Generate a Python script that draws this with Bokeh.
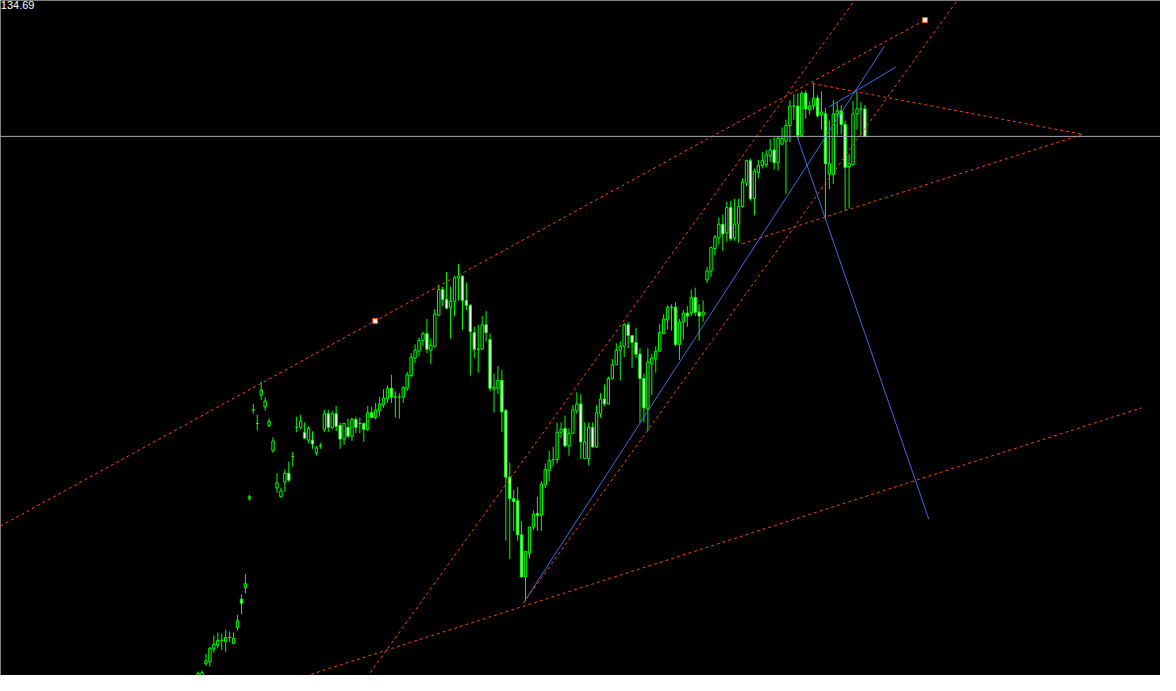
from bokeh.plotting import figure
from bokeh.models import Range1d, Label, Span, ColumnDataSource
from bokeh.embed import file_html
from bokeh.resources import INLINE

# ---- candle data (bar index order) ----
opens = [
    79.2, 79.3, 80.7, 80.9, 82.2, 82.6, 83.1, 83.0, 83.4, 82.8,
    84.4, 87.3, 88.5, 97.6, 106.7, 105.3, 108.2, 107.0, 105.1, 102.5,
    98.7, 97.8, 99.3, 100.2, 101.9, 104.9, 104.9, 104.4, 103.6, 103.6,
    102.3, 103.0, 104.7, 106.3, 104.9, 106.3, 105.1, 103.7, 104.9, 104.0,
    105.7, 105.3, 105.3, 104.7, 106.4, 105.9, 106.6, 107.2, 107.8, 108.9,
    108.0, 108.0, 108.0, 108.9, 110.2, 112.0, 112.7, 113.8, 114.5, 112.8,
    113.2, 116.4, 119.0, 118.0, 117.2, 117.8, 120.2, 120.4, 117.9, 117.4,
    114.6, 112.9, 112.9, 115.4, 113.9, 108.8, 108.9, 109.7, 106.6, 99.8,
    97.6, 97.4, 93.9, 89.6, 92.0, 94.7, 96.1, 95.9, 99.0, 100.5,
    101.6, 101.6, 104.4, 104.8, 103.0, 104.3, 106.6, 107.3, 101.7, 101.7,
    104.9, 102.9, 106.3, 107.8, 107.3, 109.9, 111.3, 112.8, 113.2, 115.4,
    114.3, 113.6, 112.4, 109.9, 106.8, 111.4, 111.9, 112.7, 114.5, 115.9,
    117.2, 117.2, 113.4, 115.7, 116.6, 116.6, 118.2, 116.7, 116.4, 120.0,
    120.9, 123.2, 124.3, 125.7, 124.8, 127.4, 124.3, 125.7, 127.5, 129.9,
    132.2, 128.3, 131.0, 131.7, 131.8, 132.7, 133.3, 132.0, 133.9, 134.2,
    135.8, 137.8, 137.8, 134.8, 139.1, 137.4, 137.8, 138.6, 136.9, 137.0,
    130.8, 130.8, 136.9, 137.3, 135.9, 131.6, 131.8, 137.0, 137.5, 137.5,
]
highs = [
    79.9, 80.0, 81.7, 82.4, 83.6, 83.9, 83.8, 84.2, 84.0, 83.9,
    85.7, 87.8, 89.9, 98.0, 107.3, 106.2, 109.6, 108.0, 105.8, 103.9,
    100.2, 98.7, 100.6, 101.4, 102.4, 106.0, 106.2, 105.4, 105.0, 104.5,
    103.0, 103.3, 106.7, 106.7, 106.6, 107.1, 105.4, 105.3, 105.8, 105.9,
    106.0, 105.9, 105.4, 107.1, 107.0, 107.4, 108.0, 108.8, 109.2, 110.3,
    108.6, 108.4, 109.1, 110.6, 112.5, 113.4, 114.1, 114.7, 116.0, 114.0,
    117.0, 119.5, 119.3, 120.8, 119.3, 120.4, 121.6, 120.4, 119.7, 117.5,
    115.2, 115.4, 116.3, 116.8, 114.5, 110.4, 111.2, 110.8, 106.8, 101.3,
    98.5, 98.8, 95.3, 92.2, 94.7, 96.4, 97.8, 99.4, 101.2, 102.5,
    102.9, 105.4, 105.4, 106.1, 104.8, 107.2, 108.5, 108.3, 105.4, 105.4,
    105.4, 107.2, 108.4, 109.3, 110.1, 111.9, 113.5, 113.7, 115.6, 115.7,
    114.3, 115.1, 113.0, 110.4, 113.0, 112.4, 113.2, 115.5, 116.5, 117.4,
    117.5, 117.7, 116.0, 116.9, 117.3, 119.0, 119.2, 117.5, 117.9, 121.3,
    123.4, 124.6, 126.4, 126.7, 128.0, 128.1, 128.3, 128.3, 130.4, 132.3,
    132.4, 131.4, 132.3, 133.1, 133.3, 134.4, 134.6, 134.7, 135.6, 136.4,
    138.4, 139.0, 139.1, 139.3, 139.4, 138.3, 140.2, 138.9, 139.3, 137.6,
    136.3, 138.4, 138.2, 137.9, 136.3, 132.9, 138.3, 139.3, 138.2, 137.9,
]
lows = [
    78.6, 78.8, 80.5, 80.4, 81.8, 82.3, 82.1, 81.9, 82.9, 82.7,
    84.1, 85.8, 87.9, 97.4, 106.3, 104.6, 107.7, 106.6, 104.9, 102.3,
    98.2, 97.7, 98.3, 99.3, 100.9, 104.4, 104.7, 103.7, 103.3, 102.7,
    102.0, 102.7, 104.4, 104.4, 104.7, 104.5, 102.7, 103.1, 103.8, 103.5,
    104.3, 104.3, 103.4, 104.5, 105.9, 105.7, 106.0, 106.9, 107.4, 107.4,
    105.9, 105.8, 107.4, 108.6, 110.0, 111.5, 112.2, 113.2, 112.5, 111.4,
    113.1, 116.3, 117.3, 117.0, 114.0, 116.3, 117.9, 114.9, 116.9, 110.2,
    112.0, 110.5, 112.9, 113.7, 108.6, 106.4, 108.3, 104.4, 93.3, 91.4,
    94.3, 93.3, 89.5, 87.1, 91.5, 94.4, 94.3, 94.3, 98.7, 99.4,
    100.9, 101.2, 103.8, 102.9, 102.0, 104.2, 106.3, 101.7, 101.7, 101.0,
    102.8, 102.8, 105.9, 107.1, 107.3, 109.8, 111.3, 109.7, 112.1, 113.0,
    111.0, 112.0, 105.4, 105.4, 104.5, 108.2, 110.5, 112.7, 114.5, 114.9,
    114.8, 113.2, 111.8, 113.9, 115.2, 116.3, 116.3, 113.8, 115.7, 119.7,
    120.3, 122.5, 123.6, 123.0, 123.9, 124.0, 124.0, 123.8, 127.4, 129.6,
    128.1, 126.6, 130.4, 131.4, 131.5, 132.1, 131.3, 131.2, 133.8, 128.8,
    134.1, 136.4, 134.4, 134.6, 136.5, 136.9, 137.4, 136.6, 135.4, 126.1,
    129.3, 129.8, 134.8, 134.9, 127.1, 127.3, 131.8, 135.4, 134.8, 134.6,
]
closes = [
    79.7, 79.8, 81.0, 82.3, 82.7, 83.1, 83.1, 83.4, 83.4, 83.3,
    85.1, 86.9, 88.9, 97.8, 106.7, 105.3, 108.7, 107.6, 105.5, 103.5,
    99.2, 98.4, 100.2, 99.5, 101.9, 104.9, 105.5, 103.8, 104.8, 103.2,
    102.8, 103.0, 106.3, 104.9, 106.3, 105.0, 103.7, 105.3, 104.0, 105.7,
    104.9, 105.3, 104.7, 106.4, 105.9, 106.7, 107.3, 107.9, 108.9, 108.0,
    108.0, 108.0, 109.0, 110.3, 112.1, 112.8, 113.8, 114.5, 112.9, 113.3,
    116.5, 119.0, 118.0, 117.1, 117.8, 120.2, 120.4, 117.9, 117.4, 114.7,
    112.9, 112.9, 115.4, 114.6, 108.9, 109.0, 109.7, 106.5, 99.8, 97.6,
    97.3, 93.9, 89.6, 92.2, 94.7, 96.0, 95.9, 99.1, 100.6, 101.5,
    101.6, 104.4, 104.7, 103.0, 104.3, 106.7, 107.3, 103.4, 103.4, 104.9,
    102.9, 106.4, 107.8, 107.3, 109.9, 111.3, 112.8, 113.2, 115.4, 114.3,
    113.6, 112.4, 109.9, 106.9, 111.6, 112.0, 112.7, 114.6, 116.0, 117.2,
    117.2, 113.4, 115.7, 116.6, 116.3, 118.2, 116.7, 116.3, 116.7, 120.9,
    123.3, 124.4, 125.7, 124.7, 127.4, 124.2, 125.7, 127.5, 130.0, 132.2,
    128.3, 131.1, 131.7, 132.2, 132.8, 133.3, 132.0, 134.5, 134.5, 135.8,
    137.8, 137.8, 134.8, 139.1, 137.5, 137.8, 138.6, 136.8, 137.2, 131.9,
    131.9, 137.0, 137.3, 135.9, 131.5, 131.9, 137.0, 137.5, 137.5, 134.69,
]

# ---- drawn objects (bar index, price) ----
bid_level = 134.69
bid_label = "134.69"
channel_upper_x = [-50.1, 184.2]
channel_upper_y = [94.8, 146.6]
channel_lower_x = [20.0, 239.2]
channel_lower_y = [78.5, 106.9]
steep_upper_x = [41.0, 168.5]
steep_upper_y = [78.3, 149.8]
steep_lower_x = [82.4, 194.0]
steep_lower_y = [86.9, 149.5]
wedge_upper_x = [155.7, 224.2]
wedge_upper_y = [140.1, 134.9]
wedge_lower_x = [137.9, 224.2]
wedge_lower_y = [123.7, 134.9]
blue_long_x = [82.9, 173.9]
blue_long_y = [87.2, 143.9]
blue_short_x = [159.9, 176.9]
blue_short_y = [137.7, 141.8]
blue_fall_x = [151.9, 185.2]
blue_fall_y = [134.6, 95.5]
anchor_x = [44.9, 184.2]
anchor_y = [115.8, 146.6]

n = len(opens)
idx = list(range(n))
tops = [max(o, c) for o, c in zip(opens, closes)]
bots = [min(o, c) for o, c in zip(opens, closes)]
fills = ["white" if c < o else "black" for o, c in zip(opens, closes)]

W, H = 1160, 675
p = figure(width=W, height=H, x_range=Range1d(-50.075, 243.925),
           y_range=Range1d(79.5, 148.6), output_backend="svg",
           toolbar_location=None, x_axis_type=None, y_axis_type=None,
           min_border=0, background_fill_color="black",
           border_fill_color="black", outline_line_color=None)

lime = "#00FF00"
src = ColumnDataSource(dict(x=idx, hi=highs, lo=lows, top=tops, bot=bots, fill=fills))
p.segment(x0="x", y0="lo", x1="x", y1="hi", source=src, line_color=lime, line_width=1)
p.vbar(x="x", width=0.6, top="top", bottom="bot", source=src,
       fill_color="fill", line_color=lime, line_width=1)

p.add_layout(Span(location=bid_level, dimension="width", line_color="#A8A8B0", line_width=1))

red = "#FF4500"
for xs, ys in [(channel_upper_x, channel_upper_y), (channel_lower_x, channel_lower_y),
               (steep_upper_x, steep_upper_y), (steep_lower_x, steep_lower_y),
               (wedge_upper_x, wedge_upper_y), (wedge_lower_x, wedge_lower_y)]:
    p.line(xs, ys, line_color=red, line_width=1, line_dash="3 3")

blue = "#4169E1"
for xs, ys in [(blue_long_x, blue_long_y), (blue_short_x, blue_short_y),
               (blue_fall_x, blue_fall_y)]:
    p.line(xs, ys, line_color=blue, line_width=1)

p.scatter(anchor_x, anchor_y, marker="square", size=5, fill_color="white",
          line_color=red, line_width=1)

p.add_layout(Label(x=-50.0, y=148.6, text=bid_label, text_color="white",
                   text_font_size="11px", text_font="Liberation Sans",
                   text_baseline="top", text_align="left"))

open("out.html", "w").write(file_html(p, INLINE))
